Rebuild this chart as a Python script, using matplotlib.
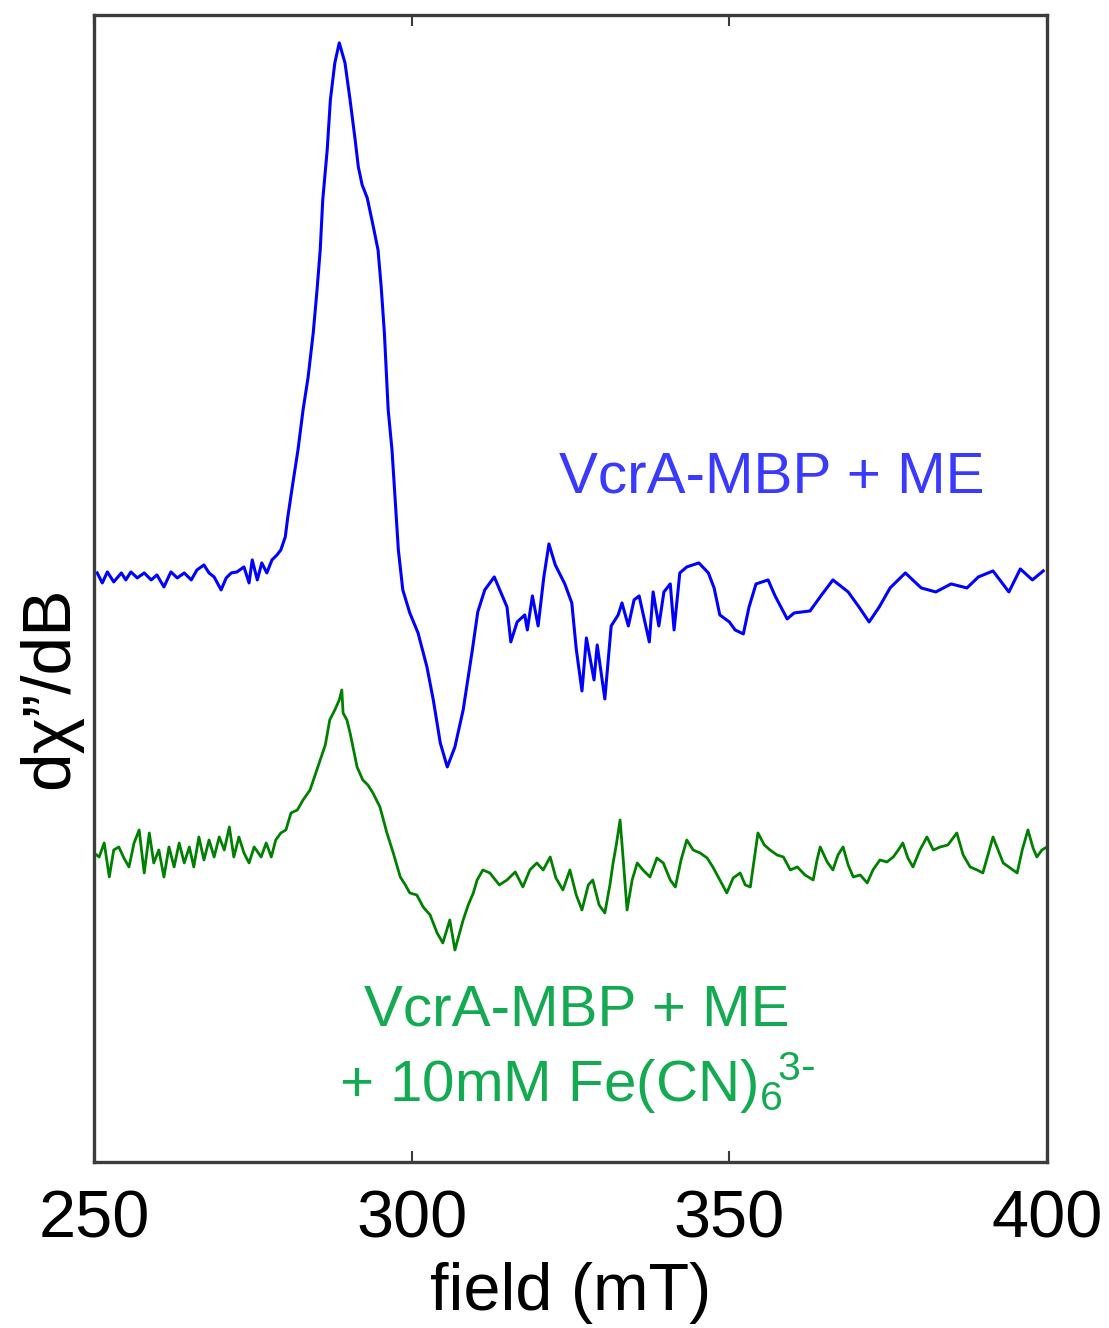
import matplotlib
matplotlib.use("Agg")
import matplotlib.pyplot as plt
import numpy as np

plt.rcParams['font.family'] = ['Liberation Sans', 'DejaVu Sans']
plt.rcParams['mathtext.default'] = 'regular'

# ---- data ----
field_blue = [
    250.5, 251.3, 252.1, 253.1, 254.3, 255.0, 255.8, 256.8, 257.9, 259.0,
    259.9, 261.0, 262.1, 263.1, 264.2, 265.3, 266.2, 267.3, 268.1, 268.9,
    270.0, 270.8, 271.6, 272.5, 273.6, 274.4, 274.9, 275.7, 276.4, 277.2,
    278.0, 278.8, 279.4, 280.1, 280.5, 281.3, 282.1, 282.9, 283.7, 284.5,
    285.1, 285.6, 286.0, 286.7, 287.2, 287.9, 288.6, 289.0, 289.5, 290.3,
    291.1, 291.6, 292.2, 293.0, 293.9, 294.7, 295.2, 295.7, 296.3, 296.9,
    297.4, 297.9, 298.6, 299.7, 301.0, 302.4, 303.4, 304.5, 305.6, 306.8,
    308.1, 309.5, 310.4, 311.5, 313.0, 315.0, 315.6, 316.6, 317.8, 318.2,
    319.0, 319.9, 320.8, 321.6, 322.6, 324.1, 325.2, 325.9, 326.8, 327.5,
    328.7, 329.2, 330.4, 331.4, 332.5, 333.1, 334.1, 335.0, 335.8, 337.4,
    338.0, 338.9, 339.7, 340.7, 341.3, 342.2, 343.3, 345.2, 346.7, 347.6,
    348.5, 350.0, 350.9, 352.2, 353.1, 354.2, 356.1, 357.2, 359.1, 360.2,
    362.7, 364.4, 366.3, 368.7, 370.4, 372.0, 373.6, 375.3, 377.7, 380.2,
    382.5, 384.9, 387.4, 389.2, 391.5, 394.0, 395.8, 397.7, 399.4,
]
signal_blue = [
    0.02, -0.08, 0.03, -0.07, 0.02, -0.05, 0.03, -0.03, 0.02, -0.05,
    0.00, -0.12, 0.03, -0.03, 0.02, -0.05, 0.05, 0.10, 0.02, -0.02,
    -0.15, -0.03, 0.02, 0.03, 0.08, -0.08, 0.15, -0.05, 0.12, 0.02,
    0.15, 0.20, 0.25, 0.38, 0.58, 0.92, 1.25, 1.65, 1.98, 2.42,
    2.85, 3.25, 3.75, 4.25, 4.75, 5.12, 5.32, 5.23, 5.12, 4.75,
    4.35, 4.08, 3.90, 3.77, 3.50, 3.25, 2.88, 2.42, 1.65, 1.25,
    0.75, 0.25, -0.15, -0.38, -0.58, -0.92, -1.25, -1.68, -1.92, -1.72,
    -1.35, -0.77, -0.37, -0.15, -0.02, -0.32, -0.67, -0.47, -0.40, -0.55,
    -0.21, -0.51, -0.02, 0.31, 0.10, -0.09, -0.28, -0.74, -1.16, -0.63,
    -1.05, -0.70, -1.24, -0.51, -0.40, -0.28, -0.51, -0.25, -0.21, -0.67,
    -0.17, -0.51, -0.17, -0.09, -0.55, 0.02, 0.08, 0.12, 0.02, -0.13,
    -0.40, -0.47, -0.55, -0.59, -0.32, -0.09, -0.05, -0.21, -0.44, -0.38,
    -0.36, -0.21, -0.05, -0.17, -0.32, -0.47, -0.32, -0.13, 0.02, -0.13,
    -0.17, -0.09, -0.13, -0.02, 0.04, -0.17, 0.06, -0.05, 0.04,
]
field_green = [
    250.0, 250.8, 251.6, 252.4, 253.1, 253.9, 254.7, 255.5, 256.3, 257.1,
    257.9, 258.7, 259.4, 260.2, 261.0, 261.8, 262.6, 263.4, 264.2, 265.0,
    265.7, 266.5, 267.3, 268.1, 268.9, 269.7, 270.5, 271.3, 272.0, 272.8,
    273.6, 274.4, 275.2, 276.3, 277.1, 277.9, 278.6, 279.4, 280.2, 281.0,
    282.0, 282.9, 284.0, 284.8, 285.6, 286.4, 287.1, 287.9, 288.6, 289.0,
    289.2, 289.8, 290.3, 291.4, 292.3, 293.1, 293.9, 295.0, 296.1, 297.1,
    298.2, 299.0, 299.7, 300.8, 301.8, 302.9, 304.0, 304.9, 306.0, 306.8,
    308.1, 308.9, 309.7, 310.3, 311.2, 312.3, 313.8, 315.0, 316.3, 317.5,
    318.6, 319.7, 320.7, 321.8, 322.7, 323.8, 324.9, 325.9, 326.8, 327.8,
    328.5, 329.5, 330.4, 331.2, 331.7, 332.2, 332.8, 333.3, 333.9, 334.7,
    335.5, 336.4, 337.5, 338.6, 339.6, 340.7, 341.5, 342.4, 343.3, 344.3,
    345.4, 346.5, 347.4, 348.5, 349.6, 350.6, 351.7, 352.5, 353.3, 353.9,
    354.5, 355.5, 356.4, 357.5, 358.5, 359.6, 360.7, 361.9, 363.2, 363.8,
    364.3, 365.4, 366.3, 367.1, 367.9, 368.7, 369.5, 370.6, 371.7, 372.6,
    373.7, 374.8, 375.8, 376.6, 377.3, 378.1, 378.9, 380.0, 381.1, 382.1,
    383.2, 384.4, 385.8, 386.8, 387.9, 389.0, 389.9, 390.7, 391.5, 392.3,
    393.1, 394.2, 395.3, 396.1, 397.0, 397.8, 398.4, 399.2, 400.0,
]
signal_green = [
    0.02, -0.02, 0.12, -0.22, 0.05, 0.08, -0.03, -0.12, 0.12, 0.25,
    -0.18, 0.22, -0.08, 0.05, -0.22, 0.08, -0.12, 0.12, -0.08, 0.08,
    -0.12, 0.18, -0.05, 0.15, -0.02, 0.18, 0.05, 0.28, -0.02, 0.18,
    0.02, -0.08, 0.08, -0.02, 0.12, -0.02, 0.15, 0.22, 0.25, 0.42,
    0.45, 0.55, 0.65, 0.80, 0.95, 1.10, 1.35, 1.45, 1.55, 1.65,
    1.42, 1.35, 1.22, 0.88, 0.75, 0.70, 0.62, 0.48, 0.22, 0.02,
    -0.22, -0.30, -0.38, -0.40, -0.52, -0.60, -0.78, -0.88, -0.65, -0.95,
    -0.65, -0.50, -0.38, -0.25, -0.15, -0.18, -0.30, -0.25, -0.17, -0.32,
    -0.15, -0.08, -0.15, -0.02, -0.23, -0.35, -0.15, -0.40, -0.55, -0.30,
    -0.25, -0.50, -0.58, -0.30, -0.08, 0.10, 0.35, -0.05, -0.55, -0.25,
    -0.08, -0.15, -0.22, -0.03, -0.08, -0.25, -0.32, -0.05, 0.15, 0.05,
    0.02, -0.03, -0.12, -0.25, -0.38, -0.23, -0.18, -0.30, -0.32, -0.05,
    0.22, 0.10, 0.05, 0.00, -0.02, -0.15, -0.12, -0.20, -0.25, -0.05,
    0.08, -0.07, -0.15, 0.00, 0.08, -0.10, -0.22, -0.20, -0.28, -0.15,
    -0.05, -0.07, -0.02, 0.05, 0.12, -0.03, -0.12, 0.05, 0.18, 0.05,
    0.08, 0.10, 0.22, 0.00, -0.12, -0.15, -0.18, 0.00, 0.18, 0.05,
    -0.08, -0.13, -0.18, 0.05, 0.25, 0.07, -0.02, 0.05, 0.08,
]
xticks = [250, 300, 350, 400]
label_blue = "VcrA-MBP + ME"
label_green = "VcrA-MBP + ME\n+ 10mM Fe(CN)$_{6}$$^{\\!3\\text{-}}$"

# ---- layout / style ----
offset_blue = 5.87
offset_green = 3.07
col_blue_line = "#0000ff"
col_green_line = "#008000"
col_blue_text = "#3a3aff"
col_green_text = "#14aa52"
spine_col = "#3c3c3c"

fig = plt.figure(figsize=(11.09, 13.28), dpi=100)
ax = fig.add_axes([0.0848, 0.125, 0.8593, 0.8638])

ax.plot(field_blue, np.array(signal_blue) + offset_blue, color=col_blue_line, lw=2.2)
ax.plot(field_green, np.array(signal_green) + offset_green, color=col_green_line, lw=2.0)

ax.set_xlim(250, 400)
ax.set_ylim(0, 11.47)
ax.set_xticks(xticks)
ax.set_xticklabels([str(t) for t in xticks])
ax.set_yticks([])
ax.tick_params(axis='x', direction='in', top=True, bottom=True, length=8, width=1.5,
               colors=spine_col, labelcolor='black', labelsize=48, pad=20)
for s in ax.spines.values():
    s.set_color(spine_col)
    s.set_linewidth(2.4)

ax.set_xlabel("field (mT)", fontsize=48, labelpad=7)
fig.text(0.045, 0.482, "dχ”/dB", rotation=90, ha='center', va='center', fontsize=50)

ax.text(356.7, 6.84, label_blue, color=col_blue_text, fontsize=42, ha='center', va='center')
ax.text(326.0, 1.12, label_green, color=col_green_text, fontsize=42, ha='center', va='center',
        linespacing=1.25)

fig.savefig("out.png", dpi=100)
